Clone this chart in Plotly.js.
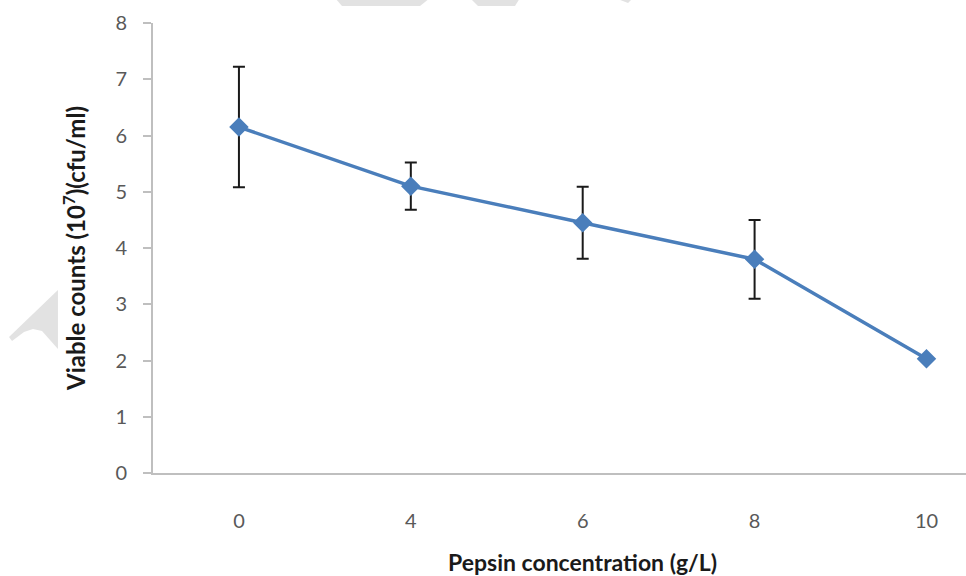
<!DOCTYPE html>
<html>
<head>
<meta charset="utf-8">
<script src="https://cdn.plot.ly/plotly-3.0.1.min.js"></script>
<style>html,body{margin:0;padding:0;background:#fff;}#chart{width:966px;height:576px;}</style>
</head>
<body>
<div id="chart"></div>
<script>
const categories = ["0", "4", "6", "8", "10"];
const viableCounts = [6.15, 5.1, 4.45, 3.8, 2.03];
const errorValues = [1.07, 0.42, 0.64, 0.7, 0];
const yTickValues = [0, 1, 2, 3, 4, 5, 6, 7, 8];

// plot area in pixels (for decorative watermark conversion)
const PL = 153, PR = 966, PT = 23, PB = 473;
function px(x) { return (x - PL) / (PR - PL); }
function py(y) { return (PB - y) / (PB - PT); }
function path(points) {
  return 'M' + points.map(p => px(p[0]).toFixed(4) + ',' + py(p[1]).toFixed(4)).join(' L') + ' Z';
}

const wmColor = '#e2e2e2';
const shapes = [
  { type: 'path', xref: 'paper', yref: 'paper', layer: 'below', fillcolor: wmColor, line: { width: 0 },
    path: path([[335, -2], [430, -2], [420, 6], [342, 6]]) },
  { type: 'path', xref: 'paper', yref: 'paper', layer: 'below', fillcolor: wmColor, line: { width: 0 },
    path: path([[470, -2], [520, -2], [515, 6], [478, 6]]) },
  { type: 'path', xref: 'paper', yref: 'paper', layer: 'below', fillcolor: wmColor, line: { width: 0 },
    path: path([[615, -2], [633, -2], [628, 3]]) },
  { type: 'path', xref: 'paper', yref: 'paper', layer: 'below', fillcolor: wmColor, line: { width: 0 },
    path: path([[58, 290], [58, 349], [50, 340], [42, 331], [33, 329], [24, 332], [12, 341], [9, 337]]) }
];

const trace = {
  type: 'scatter',
  mode: 'lines+markers',
  x: categories,
  y: viableCounts,
  line: { color: '#4a7ebb', width: 3.5 },
  marker: { symbol: 'diamond', size: 15, color: '#4a7ebb' },
  error_y: { type: 'data', array: errorValues, visible: true, color: '#1a1a1a', thickness: 2, width: 6 },
  cliponaxis: false,
  showlegend: false
};

const layout = {
  width: 966, height: 576,
  margin: { l: PL, r: 966 - PR, t: PT, b: 576 - PB, pad: 0 },
  paper_bgcolor: '#ffffff', plot_bgcolor: '#ffffff',
  font: { family: 'Lato, "Open Sans", sans-serif', size: 20, color: '#595959' },
  xaxis: {
    type: 'category',
    range: [-0.5, 4.23],
    showgrid: false, zeroline: false,
    showline: true, linecolor: '#bfbfbf', linewidth: 2,
    ticks: '', ticklabelstandoff: 29,
    tickfont: { family: 'Lato, sans-serif', size: 20, color: '#595959' },
    fixedrange: true
  },
  yaxis: {
    range: [0, 8],
    tickvals: yTickValues,
    showgrid: false, zeroline: false,
    showline: true, linecolor: '#bfbfbf', linewidth: 2,
    ticks: 'outside', ticklen: 8, tickwidth: 2, tickcolor: '#bfbfbf',
    ticklabelstandoff: 12,
    tickfont: { family: 'Lato, sans-serif', size: 20, color: '#595959' },
    title: { text: '<b>Viable counts (10<sup>7</sup>)(cfu/ml)</b>', standoff: 23,
             font: { family: 'Lato, sans-serif', size: 24, color: '#1a1a1a' } },
    fixedrange: true
  },
  annotations: [{
    xref: 'x', yref: 'paper', x: 2, y: (PB - 562) / (PB - PT),
    xanchor: 'center', yanchor: 'middle', showarrow: false,
    text: '<b>Pepsin concentration (g/L)</b>',
    font: { family: 'Lato, sans-serif', size: 23, color: '#1a1a1a' }
  }],
  shapes: shapes
};

Plotly.newPlot('chart', [trace], layout, { displayModeBar: false, staticPlot: true });
</script>
</body>
</html>
